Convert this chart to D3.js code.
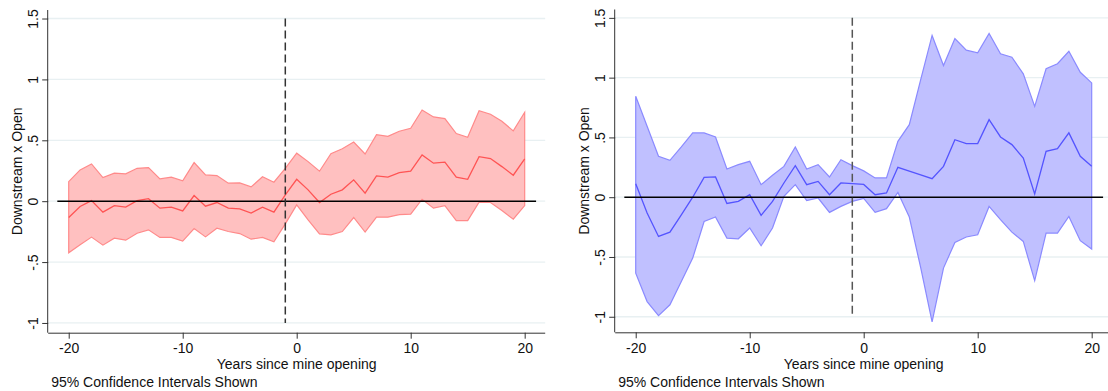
<!DOCTYPE html>
<html>
<head>
<meta charset="utf-8">
<script src="https://cdn.jsdelivr.net/npm/d3@7"></script>
<style>
  html, body { margin: 0; padding: 0; background: #fff; }
  svg { display: block; font-family: "Liberation Sans", Arial, sans-serif; }
</style>
</head>
<body>
<svg id="chart" width="1108" height="391"></svg>
<script>
// ---- data ----
const years = [-20,-19,-18,-17,-16,-15,-14,-13,-12,-11,-10,-9,-8,-7,-6,-5,-4,-3,-2,-1,0,1,2,3,4,5,6,7,8,9,10,11,12,13,14,15,16,17,18,19,20];

const leftUpper = [0.16,0.257,0.306,0.194,0.23,0.224,0.27,0.276,0.183,0.197,
  0.167,0.317,0.216,0.21,0.148,0.15,0.117,0.2,0.156,0.27,
  0.394,0.325,0.246,0.39,0.43,0.486,0.388,0.546,0.533,0.574,0.599,
  0.749,0.692,0.678,0.555,0.525,0.743,0.714,0.656,0.577,0.73];
const leftEst = [-0.134,-0.044,0.005,-0.09,-0.036,-0.049,0.005,0.021,-0.057,-0.049,
  -0.08,0.046,-0.041,-0.011,-0.057,-0.063,-0.098,-0.049,-0.09,0.052,
  0.18,0.093,-0.011,0.057,0.093,0.175,0.066,0.208,0.197,0.235,0.246,
  0.38,0.312,0.32,0.197,0.18,0.366,0.35,0.284,0.213,0.347];
const leftLower = [-0.424,-0.358,-0.295,-0.361,-0.304,-0.32,-0.263,-0.235,-0.298,-0.298,
  -0.328,-0.225,-0.293,-0.222,-0.249,-0.266,-0.312,-0.298,-0.334,-0.186,
  -0.03,-0.153,-0.268,-0.276,-0.249,-0.134,-0.254,-0.131,-0.131,-0.11,-0.107,
  0.016,-0.057,-0.036,-0.159,-0.159,-0.008,-0.011,-0.077,-0.148,-0.036];

const rightUpper = [0.844,0.593,0.342,0.308,0.42,0.538,0.538,0.504,0.236,0.272,
  0.3,0.105,0.183,0.258,0.42,0.236,0.272,0.169,0.314,0.264,
  0.22,0.161,0.161,0.467,0.607,0.984,1.353,1.101,1.327,1.23,1.207,
  1.369,1.199,1.171,1.032,0.76,1.074,1.116,1.221,1.045,0.956];
const rightEst = [0.113,-0.132,-0.328,-0.292,-0.147,0.0,0.166,0.17,-0.052,-0.035,
  0.021,-0.152,-0.035,0.119,0.264,0.105,0.132,0.021,0.119,0.113,
  0.107,0.021,0.035,0.25,0.219,0.186,0.155,0.258,0.481,0.448,0.448,
  0.649,0.504,0.44,0.328,0.028,0.384,0.406,0.538,0.342,0.258];
const rightLower = [-0.635,-0.873,-0.99,-0.9,-0.705,-0.509,-0.203,-0.166,-0.342,-0.348,
  -0.258,-0.406,-0.258,0.007,0.105,-0.029,-0.007,-0.127,-0.077,-0.035,
  -0.01,-0.127,-0.096,0.04,-0.166,-0.59,-1.042,-0.593,-0.378,-0.333,-0.314,
  -0.077,-0.188,-0.292,-0.37,-0.699,-0.3,-0.3,-0.161,-0.364,-0.434];

const xTicks = [-20, -10, 0, 10, 20];
const xTickLabels = ["-20", "-10", "0", "10", "20"];
const yTicks = [1.5, 1, 0.5, 0, -0.5, -1];
const yTickLabels = ["1.5", "1", ".5", "0", "-.5", "-1"];
const xTitle = "Years since mine opening";
const yTitle = "Downstream x Open";
const note = "95% Confidence Intervals Shown";
const eventYear = -1;

// ---- drawing ----
const svg = d3.select("#chart");

function panel(o) {
  const g = svg.append("g");
  const x = d3.scaleLinear().domain([-21.8, 21.8]).range([o.left, o.left + 497]);
  const y = d3.scaleLinear().domain(o.yDomain).range([o.bottom, o.top]);

  // gridlines
  g.append("g").selectAll("line").data(yTicks).join("line")
    .attr("x1", o.left).attr("x2", o.left + 497)
    .attr("y1", d => y(d)).attr("y2", d => y(d))
    .attr("stroke", "#e8f0f2").attr("stroke-width", 1.3);

  const rows = years.map((t, i) => ({t, lo: o.lower[i], hi: o.upper[i], est: o.est[i]}));

  // CI band
  g.append("path").datum(rows)
    .attr("d", d3.area().x(d => x(d.t)).y0(d => y(d.lo)).y1(d => y(d.hi)))
    .attr("fill", o.fill).attr("stroke", o.edge).attr("stroke-width", 1.2)
    .attr("stroke-linejoin", "miter");

  // estimate line
  g.append("path").datum(rows)
    .attr("d", d3.line().x(d => x(d.t)).y(d => y(d.est)))
    .attr("fill", "none").attr("stroke", o.line).attr("stroke-width", 1.3);

  // zero line
  g.append("line")
    .attr("x1", x(-21)).attr("x2", x(21))
    .attr("y1", y(0)).attr("y2", y(0))
    .attr("stroke", "#000").attr("stroke-width", 1.4);

  // event line
  g.append("line")
    .attr("x1", x(eventYear)).attr("x2", x(eventYear))
    .attr("y1", y(1.5)).attr("y2", y(-1))
    .attr("stroke", o.dash).attr("stroke-width", 1.5)
    .attr("stroke-dasharray", "8,4");

  // y axis
  const ya = g.append("g").attr("transform", `translate(${o.left},0)`)
    .call(d3.axisLeft(y).tickValues(yTicks).tickSize(6).tickFormat((d, i) => yTickLabels[i]));
  ya.select(".domain").attr("d", `M-0.5,${o.top}V${o.bottom}`).attr("stroke", "#333");
  ya.selectAll(".tick line").attr("stroke", "#333");
  ya.selectAll(".tick text")
    .attr("transform", "rotate(-90)")
    .attr("x", 0).attr("y", -10.5).attr("dy", 0)
    .attr("text-anchor", "middle")
    .attr("font-size", 14).attr("fill", "#111")
    .attr("font-family", "'Liberation Sans', Arial, sans-serif");

  // x axis
  const xa = g.append("g").attr("transform", `translate(0,${o.bottom})`)
    .call(d3.axisBottom(x).tickValues(xTicks).tickSize(6).tickFormat((d, i) => xTickLabels[i]));
  xa.select(".domain").attr("d", `M${o.left},0.5H${o.left + 497}`).attr("stroke", "#333");
  xa.selectAll(".tick line").attr("stroke", "#333");
  xa.selectAll(".tick text")
    .attr("y", 0).attr("dy", 20.5)
    .attr("font-size", 14).attr("fill", "#111")
    .attr("font-family", "'Liberation Sans', Arial, sans-serif");

  // titles
  g.append("text")
    .attr("x", o.left + 248.5).attr("y", 369)
    .attr("text-anchor", "middle").attr("font-size", 14).attr("fill", "#111")
    .text(xTitle);
  g.append("text")
    .attr("transform", `translate(${o.left - 26},${(o.top + o.bottom) / 2}) rotate(-90)`)
    .attr("text-anchor", "middle").attr("font-size", 14).attr("fill", "#111")
    .text(yTitle);
  g.append("text")
    .attr("x", o.left + 3).attr("y", 387)
    .attr("font-size", 14).attr("fill", "#111")
    .text(note);
}

panel({left: 48.2, top: 10, bottom: 332.7, yDomain: [-1.08, 1.57],
  upper: leftUpper, est: leftEst, lower: leftLower,
  fill: "#ffc0c0", edge: "#ff8a8a", line: "#ff5454", dash: "#333"});
panel({left: 615.2, top: 9.5, bottom: 332.3, yDomain: [-1.13, 1.57],
  upper: rightUpper, est: rightEst, lower: rightLower,
  fill: "#c0c0ff", edge: "#8a8aff", line: "#5454ff", dash: "#555"});
</script>
</body>
</html>
